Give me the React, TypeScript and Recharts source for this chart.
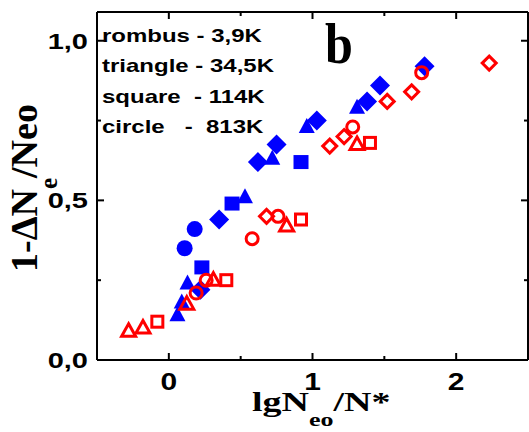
import React from "react";
import { ScatterChart, Scatter, XAxis, YAxis } from "recharts";

/* ── Data ────────────────────────────────────────────────────── */

const blueRombus = [
  { x: 0.22, y: 0.22 }, { x: 0.35, y: 0.44 }, { x: 0.62, y: 0.62 },
  { x: 0.75, y: 0.675 }, { x: 1.03, y: 0.75 }, { x: 1.38, y: 0.81 },
  { x: 1.47, y: 0.86 }, { x: 1.78, y: 0.92 },
];
const blueTriangle = [
  { x: 0.06, y: 0.14 }, { x: 0.09, y: 0.18 }, { x: 0.13, y: 0.24 },
  { x: 0.53, y: 0.51 }, { x: 0.72, y: 0.63 }, { x: 0.96, y: 0.73 },
  { x: 1.31, y: 0.79 },
];
const blueSquare = [
  { x: 0.23, y: 0.29 }, { x: 0.44, y: 0.49 }, { x: 0.92, y: 0.62 },
];
const blueCircle = [
  { x: 0.11, y: 0.35 }, { x: 0.18, y: 0.41 },
];

const redTriangle = [
  { x: -0.28, y: 0.09 }, { x: -0.18, y: 0.1 }, { x: 0.125, y: 0.175 },
  { x: 0.31, y: 0.25 }, { x: 0.82, y: 0.42 }, { x: 1.31, y: 0.675 },
];
const redSquare = [
  { x: -0.08, y: 0.12 }, { x: 0.4, y: 0.25 }, { x: 0.92, y: 0.44 },
  { x: 1.4, y: 0.68 },
];
const redCircle = [
  { x: 0.19, y: 0.21 }, { x: 0.26, y: 0.25 }, { x: 0.58, y: 0.38 },
  { x: 0.76, y: 0.45 }, { x: 1.28, y: 0.73 }, { x: 1.76, y: 0.9 },
];
const redRombus = [
  { x: 0.68, y: 0.45 }, { x: 1.12, y: 0.67 }, { x: 1.22, y: 0.7 },
  { x: 1.52, y: 0.81 }, { x: 1.69, y: 0.84 }, { x: 2.23, y: 0.93 },
];

const xTicks = [0, 0.5, 1, 1.5, 2];
const xTickLabels: Record<number, string> = { 0: "0", 1: "1", 2: "2" };
const yTicks = [0, 0.25, 0.5, 0.75, 1];
const yTickLabels: Record<number, string> = { 0: "0,0", 0.5: "0,5", 1: "1,0" };

const legendLines = [
  "rombus - 3,9K",
  "triangle - 34,5K",
  "square  - 114K",
  "circle   -  813K",
];

/* ── Styles ───────────────────────────────────────────────────── */

const BLUE = "#0000ff";
const RED = "#ff0000";
const SANS = "'Liberation Sans', Arial, sans-serif";
const SERIF = "'Liberation Serif', 'Times New Roman', serif";

/* ── Markers ──────────────────────────────────────────────────── */

const rombusFilled = ({ cx, cy }: any) => (
  <polygon
    points={`${cx},${cy - 10} ${cx + 10},${cy} ${cx},${cy + 10} ${cx - 10},${cy}`}
    fill={BLUE}
  />
);
const triangleFilled = ({ cx, cy }: any) => (
  <polygon
    points={`${cx},${cy - 9} ${cx + 8},${cy + 6} ${cx - 8},${cy + 6}`}
    fill={BLUE}
  />
);
const squareFilled = ({ cx, cy }: any) => (
  <rect x={cx - 7.5} y={cy - 7} width={15} height={14} fill={BLUE} />
);
const circleFilled = ({ cx, cy }: any) => (
  <circle cx={cx} cy={cy} r={8} fill={BLUE} />
);

const rombusOpen = ({ cx, cy }: any) => (
  <polygon
    points={`${cx},${cy - 7} ${cx + 7},${cy} ${cx},${cy + 7} ${cx - 7},${cy}`}
    fill="none"
    stroke={RED}
    strokeWidth={3}
  />
);
const triangleOpen = ({ cx, cy }: any) => (
  <polygon
    points={`${cx},${cy - 7.5} ${cx + 7},${cy + 5} ${cx - 7},${cy + 5}`}
    fill="none"
    stroke={RED}
    strokeWidth={3}
  />
);
const squareOpen = ({ cx, cy }: any) => (
  <rect x={cx - 5.5} y={cy - 5.5} width={11} height={11} fill="none" stroke={RED} strokeWidth={3} />
);
const circleOpen = ({ cx, cy }: any) => (
  <circle cx={cx} cy={cy} r={6} fill="none" stroke={RED} strokeWidth={3} />
);
const noMark = () => <g />;

/* ── Ticks (drawn inward, labels outside) ─────────────────────── */

const BottomTick = ({ x, y, payload }: any) => {
  const v = payload.value;
  const major = Number.isInteger(v);
  return (
    <g>
      <line x1={x} y1={y} x2={x} y2={y - (major ? 7 : 4)} stroke="#000" strokeWidth={2} />
      {xTickLabels[v] !== undefined && (
        <text
          transform={`translate(${x},${y + 30}) scale(1,0.77)`}
          textAnchor="middle"
          fontFamily={SANS}
          fontWeight="bold"
          fontSize={30}
          fill="#000"
        >
          {xTickLabels[v]}
        </text>
      )}
    </g>
  );
};

const TopTick = ({ x, y, payload }: any) => {
  const major = Number.isInteger(payload.value);
  return <line x1={x} y1={y} x2={x} y2={y + (major ? 7 : 4)} stroke="#000" strokeWidth={2} />;
};

const LeftTick = ({ x, y, payload }: any) => {
  const v = payload.value;
  const major = yTickLabels[v] !== undefined;
  return (
    <g>
      <line x1={x} y1={y} x2={x + (major ? 7 : 4)} y2={y} stroke="#000" strokeWidth={2} />
      {major && (
        <text
          transform={`translate(${x - 9},${y + 8}) scale(1,0.77)`}
          textAnchor="end"
          fontFamily={SANS}
          fontWeight="bold"
          fontSize={29}
          fill="#000"
        >
          {yTickLabels[v]}
        </text>
      )}
    </g>
  );
};

const RightTick = ({ x, y, payload }: any) => {
  const major = yTickLabels[payload.value] !== undefined;
  return <line x1={x} y1={y} x2={x - (major ? 7 : 4)} y2={y} stroke="#000" strokeWidth={2} />;
};

/* ── Chart ────────────────────────────────────────────────────── */

export default function App() {
  const axisLine = { stroke: "#000", strokeWidth: 2 };
  return (
    <div style={{ position: "absolute", left: 0, top: 0, width: 529, height: 432, background: "#fff" }}>
      <ScatterChart width={529} height={432} margin={{ top: 11, right: 0, bottom: 0, left: 0 }}>
        <XAxis
          type="number"
          dataKey="x"
          domain={[-0.5, 2.5]}
          ticks={xTicks}
          height={72}
          axisLine={axisLine}
          tickSize={0}
          tickMargin={0}
          tickLine={false}
          tick={BottomTick}
          allowDataOverflow
        />
        <XAxis
          xAxisId="top"
          orientation="top"
          type="number"
          dataKey="x"
          domain={[-0.5, 2.5]}
          ticks={xTicks}
          height={1}
          axisLine={axisLine}
          tickSize={0}
          tickMargin={0}
          tickLine={false}
          tick={TopTick}
          allowDataOverflow
        />
        <YAxis
          type="number"
          dataKey="y"
          domain={[0, 1.09]}
          ticks={yTicks}
          width={97}
          axisLine={axisLine}
          tickSize={0}
          tickMargin={0}
          tickLine={false}
          tick={LeftTick}
          allowDataOverflow
        />
        <YAxis
          yAxisId="right"
          orientation="right"
          type="number"
          dataKey="y"
          domain={[0, 1.09]}
          ticks={yTicks}
          width={1}
          axisLine={axisLine}
          tickSize={0}
          tickMargin={0}
          tickLine={false}
          tick={RightTick}
          allowDataOverflow
        />
        {/* invisible series so the mirrored frame axes get drawn */}
        <Scatter
          data={redRombus}
          xAxisId="top"
          yAxisId="right"
          shape={noMark}
          isAnimationActive={false}
        />
        <Scatter data={blueRombus} shape={rombusFilled} isAnimationActive={false} />
        <Scatter data={blueTriangle} shape={triangleFilled} isAnimationActive={false} />
        <Scatter data={blueSquare} shape={squareFilled} isAnimationActive={false} />
        <Scatter data={blueCircle} shape={circleFilled} isAnimationActive={false} />
        <Scatter data={redRombus} shape={rombusOpen} isAnimationActive={false} />
        <Scatter data={redTriangle} shape={triangleOpen} isAnimationActive={false} />
        <Scatter data={redSquare} shape={squareOpen} isAnimationActive={false} />
        <Scatter data={redCircle} shape={circleOpen} isAnimationActive={false} />
      </ScatterChart>

      {/* titles, legend text and panel letter */}
      <svg
        width={529}
        height={432}
        style={{ position: "absolute", left: 0, top: 0, pointerEvents: "none" }}
      >
        {legendLines.map((t, i) => (
          <text
            key={t}
            transform={`translate(102,${42 + i * 30.3}) scale(1,0.77)`}
            fontFamily={SANS}
            fontWeight="bold"
            fontSize={24}
            fill="#000"
            style={{ whiteSpace: "pre" }}
          >
            {t}
          </text>
        ))}
        <text
          transform="translate(325,63) scale(0.88,1)"
          fontFamily={SERIF}
          fontWeight="bold"
          fontSize={57}
          fill="#000"
        >
          b
        </text>
        <text
          transform="translate(252,411) scale(1,0.71)"
          fontFamily={SERIF}
          fontWeight="bold"
          fontSize={38}
          fill="#000"
        >
          lgN
          <tspan fontSize={26} dy={21}>eo</tspan>
          <tspan dy={-21}>/N*</tspan>
        </text>
        <text
          transform="translate(37,272) rotate(-90)"
          fontFamily={SERIF}
          fontWeight="bold"
          fontSize={38}
          fill="#000"
        >
          1-ΔN
          <tspan fontSize={25} dy={20}>e</tspan>
          <tspan dy={-20}>/Neo</tspan>
        </text>
      </svg>
    </div>
  );
}
